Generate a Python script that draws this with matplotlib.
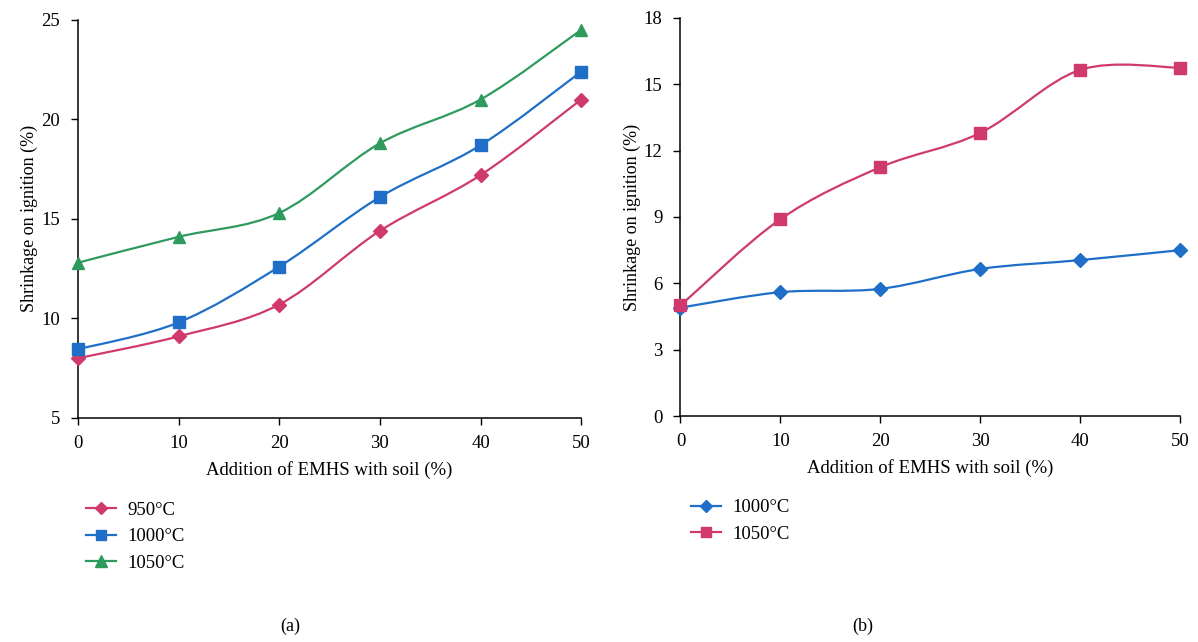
import matplotlib
matplotlib.use("Agg")
import matplotlib.pyplot as plt
from matplotlib.path import Path
from matplotlib.patches import PathPatch
from matplotlib.lines import Line2D

plt.rcParams["font.family"] = ["Liberation Serif", "DejaVu Serif"]

# ---- data ----
emhs = [0, 10, 20, 30, 40, 50]

a_950 = [8.0, 9.1, 10.7, 14.4, 17.2, 21.0]
a_1000 = [8.45, 9.8, 12.6, 16.1, 18.7, 22.4]
a_1050 = [12.8, 14.1, 15.3, 18.8, 21.0, 24.5]

b_1000 = [4.9, 5.6, 5.75, 6.65, 7.05, 7.5]
b_1050 = [5.0, 8.9, 11.25, 12.8, 15.65, 15.75]

a_ticks = [5, 10, 15, 20, 25]
b_ticks = [0, 3, 6, 9, 12, 15, 18]

PINK = "#d0396e"
BLUE = "#1f6fc8"
GREEN = "#2f9a5e"


def smooth_path(x, y, t=0.5):
    """Excel-like smoothed line: Catmull-Rom segments as cubic Bezier."""
    verts = [(x[0], y[0])]
    codes = [Path.MOVETO]
    n = len(x)
    for i in range(n - 1):
        x0, y0 = (x[i - 1], y[i - 1]) if i > 0 else (x[i], y[i])
        x1, y1 = x[i], y[i]
        x2, y2 = x[i + 1], y[i + 1]
        x3, y3 = (x[i + 2], y[i + 2]) if i + 2 < n else (x2, y2)
        c1 = (x1 + (x2 - x0) * t / 3, y1 + (y2 - y0) * t / 3)
        c2 = (x2 - (x3 - x1) * t / 3, y2 - (y3 - y1) * t / 3)
        verts += [c1, c2, (x2, y2)]
        codes += [Path.CURVE4] * 3
    return Path(verts, codes)


def draw(ax, x, y, color, marker, ms):
    ax.add_patch(PathPatch(smooth_path(x, y), fill=False, edgecolor=color, lw=1.6,
                           zorder=2))
    ax.plot(x, y, ls="none", marker=marker, ms=ms, color=color, mec=color,
            zorder=3, clip_on=False)


def style(ax, ylim, ticks):
    ax.set_xlim(0, 50)
    ax.set_ylim(*ylim)
    ax.set_xticks(emhs)
    ax.set_yticks(ticks)
    for s in ("top", "right"):
        ax.spines[s].set_visible(False)
    for s in ("left", "bottom"):
        ax.spines[s].set_linewidth(1.1)
    ax.tick_params(labelsize=13.5, length=5, width=1)
    ax.tick_params(axis="x", pad=7)
    ax.tick_params(axis="y", pad=8)
    ax.set_xlabel("Addition of EMHS with soil (%)", fontsize=13.5, labelpad=7)
    ax.set_ylabel("Shrinkage on ignition (%)", fontsize=13, labelpad=2)


fig = plt.figure(figsize=(11.98, 6.42), dpi=100)

ax1 = fig.add_axes([0.0651, 0.349, 0.420, 0.620])
draw(ax1, emhs, a_950, PINK, "D", 7)
draw(ax1, emhs, a_1000, BLUE, "s", 9)
draw(ax1, emhs, a_1050, GREEN, "^", 9)
style(ax1, (5, 25), a_ticks)

ax2 = fig.add_axes([0.568, 0.352, 0.417, 0.620])
draw(ax2, emhs, b_1000, BLUE, "D", 7)
draw(ax2, emhs, b_1050, PINK, "s", 8)
style(ax2, (0, 18), b_ticks)

h1 = [Line2D([], [], color=PINK, marker="D", ms=6, lw=1.6),
      Line2D([], [], color=BLUE, marker="s", ms=7, lw=1.6),
      Line2D([], [], color=GREEN, marker="^", ms=8, lw=1.6)]
fig.legend(h1, ["950°C", "1000°C", "1050°C"], loc="upper left",
           bbox_to_anchor=(0.058, 0.245), frameon=False, fontsize=13.5,
           handlelength=1.6, handletextpad=0.6, labelspacing=0.5)

h2 = [Line2D([], [], color=BLUE, marker="D", ms=6, lw=1.6),
      Line2D([], [], color=PINK, marker="s", ms=7, lw=1.6)]
fig.legend(h2, ["1000°C", "1050°C"], loc="upper left",
           bbox_to_anchor=(0.563, 0.249), frameon=False, fontsize=13.5,
           handlelength=1.6, handletextpad=0.6, labelspacing=0.5)

fig.text(0.242, 0.018, "(a)", ha="center", fontsize=13)
fig.text(0.720, 0.018, "(b)", ha="center", fontsize=13)

fig.savefig("out.png", dpi=100)
